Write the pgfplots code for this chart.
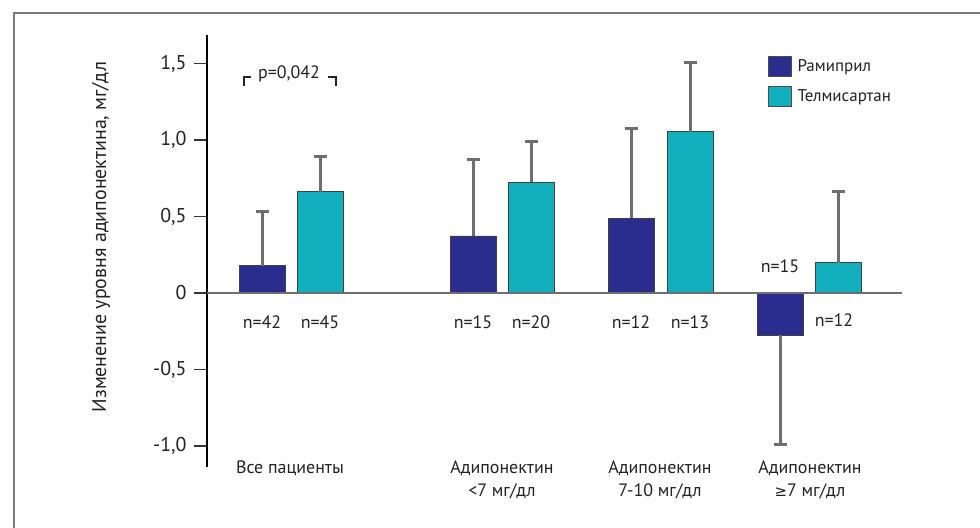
\documentclass[border=0pt]{standalone}
\usepackage{fontspec}
\setmainfont{PT Sans}
\newfontfamily\symfont{DejaVu Sans}
\usepackage{pgfplots}
\pgfplotsset{compat=1.18}
\definecolor{ram}{HTML}{2B2D8E}
\definecolor{tel}{HTML}{12B0BF}
\definecolor{errg}{HTML}{6E6E6E}
\definecolor{frameg}{HTML}{7A7A7A}
\definecolor{txt}{HTML}{222222}
\begin{document}
\begin{tikzpicture}[x=1bp,y=1bp]
\useasboundingbox (0,0) rectangle (980,528);
\fill[white] (0,0) rectangle (980,528);
\draw[frameg, line width=2.2bp] (14,0) -- (14,515) -- (980,515);
\begin{axis}[
 at={(207bp,61bp)}, anchor=south west,
 scale only axis, width=695bp, height=432bp,
 xmin=207, xmax=902, ymin=-1.137, ymax=1.686,
 axis x line*=bottom, x axis line style={draw=none},
 axis y line*=left, y axis line style={line width=1.4bp, black},
 xtick={290,502,660,810},
 xticklabels={{Все пациенты},{Адипонектин\\<7 мг/дл},{Адипонектин\\7-10 мг/дл},{Адипонектин\\{\symfont\fontsize{15}{18}\selectfont ≥}7 мг/дл}},
 x tick style={draw=none},
 xticklabel style={align=center, anchor=north, text=txt, font=\fontsize{18}{23.5}\selectfont, yshift=23bp},
 ytick={-1,-0.5,0,0.5,1,1.5},
 yticklabels={{-1,0},{-0,5},{0},{0,5},{1,0},{1,5}},
 tick align=outside, major tick length=13bp,
 y tick style={line width=1.4bp, black!80},
 yticklabel style={font=\fontsize{20}{24}\selectfont, text=txt, xshift=-4bp},
 ylabel={Изменение уровня адипонектина, мг/дл},
 every axis y label/.style={at={(axis cs:101,0.366)}, rotate=90, anchor=center, font=\fontsize{20}{24}\selectfont, text=txt},
 ybar, bar shift=0pt, bar width=46bp,
 clip=false,
 error bars/error bar style={line width=3bp, draw=errg},
 error bars/error mark options={rotate=90, line width=3bp, draw=errg, mark size=6.5bp},
 legend style={at={(axis cs:768,1.55)}, anchor=north west, draw=none, fill=none, inner sep=0pt, row sep=9bp, font=\fontsize{17}{20}\selectfont, text=txt, cells={anchor=west}, nodes={inner sep=1bp}},
]
\addplot[fill=ram, draw=black!75, line width=0.7bp,
  legend image code/.code={\draw[fill=ram, draw=black!70, line width=0.7bp] (0bp,-10bp) rectangle (23bp,10bp); \path[draw=none, fill=none] (23bp,0bp) -- (28bp,0bp);},
  error bars/.cd, y dir=plus, y explicit]
  coordinates {(262,0.178) +- (0,0.353) (473,0.373) +- (0,0.497) (631,0.49) +- (0,0.588)};
\addlegendentry{Рамиприл}
\addplot[fill=tel, draw=black!75, line width=0.7bp,
  legend image code/.code={\draw[fill=tel, draw=black!70, line width=0.7bp] (0bp,-10bp) rectangle (23bp,10bp); \path[draw=none, fill=none] (23bp,0bp) -- (28bp,0bp);},
  error bars/.cd, y dir=plus, y explicit]
  coordinates {(320,0.662) +- (0,0.229) (531,0.725) +- (0,0.262) (690,1.054) +- (0,0.451) (838.5,0.198) +- (0,0.462)};
\addlegendentry{Телмисартан}
\addplot[fill=ram, draw=black!75, line width=0.7bp, forget plot,
  error bars/.cd, y dir=minus, y explicit]
  coordinates {(780,-0.275) +- (0,0.718)};
\draw[errg, line width=2bp] (axis cs:207,0) -- (axis cs:902,0);
\begin{scope}[every node/.style={font=\fontsize{18}{22}\selectfont, text=txt}]
\node at (axis cs:262,-0.19) {n=42};
\node at (axis cs:320,-0.19) {n=45};
\node at (axis cs:473,-0.19) {n=15};
\node at (axis cs:531,-0.19) {n=20};
\node at (axis cs:631,-0.19) {n=12};
\node at (axis cs:690,-0.19) {n=13};
\node at (axis cs:780,0.176) {n=15};
\node at (axis cs:834,-0.18) {n=12};
\node at (axis cs:289,1.431) {p=0,042};
\end{scope}
\draw[txt, line width=1.6bp] (axis cs:244,1.353) -- (axis cs:244,1.412) -- (axis cs:251,1.412);
\draw[txt, line width=1.6bp] (axis cs:328,1.412) -- (axis cs:336,1.412) -- (axis cs:336,1.353);
\end{axis}
\end{tikzpicture}
\end{document}
